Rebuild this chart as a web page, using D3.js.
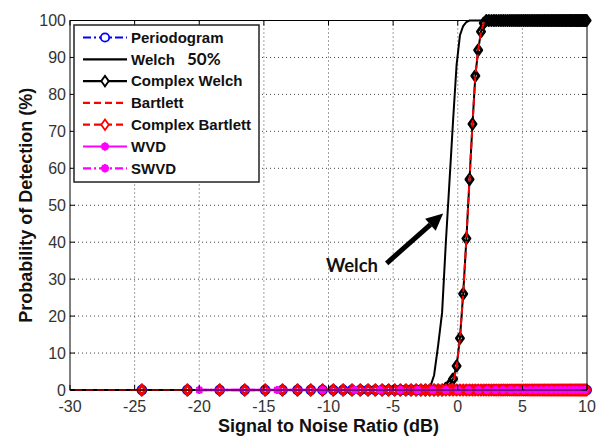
<!DOCTYPE html>
<html>
<head>
<meta charset="utf-8">
<script src="https://cdn.jsdelivr.net/npm/d3@7"></script>
<style>
  html, body { margin: 0; padding: 0; background: #fff; }
  svg { display: block; }
</style>
</head>
<body>
<svg id="chart" width="601" height="439"></svg>
<script>
// SNR sample grid (dB) for the spectral detectors
const snrFine = [
  -30.46, -24.44, -20.92, -18.42, -16.48, -14.90, -13.56, -12.40, -11.37, -10.46,
  -9.63, -8.87, -8.18, -7.54, -6.94, -6.38, -5.85, -5.35, -4.88, -4.44,
  -4.01, -3.61, -3.22, -2.85, -2.50, -2.16, -1.83, -1.52, -1.21, -0.92,
  -0.63, -0.36, -0.09, 0.17, 0.42, 0.67, 0.91, 1.14, 1.36, 1.58,
  1.80, 2.01, 2.21, 2.41, 2.61, 2.80, 2.98, 3.17, 3.35, 3.52,
  3.69, 3.86, 4.03, 4.19, 4.35, 4.51, 4.66, 4.81, 4.96, 5.11,
  5.25, 5.39, 5.53, 5.67, 5.80, 5.93, 6.06, 6.19, 6.32, 6.44,
  6.57, 6.69, 6.81, 6.93, 7.04, 7.16, 7.27, 7.38, 7.50, 7.60,
  7.71, 7.82, 7.92, 8.03, 8.13, 8.23, 8.33, 8.43, 8.53, 8.63,
  8.72, 8.82, 8.91, 9.01, 9.10, 9.19, 9.28, 9.37, 9.46, 9.54,
  9.63, 9.71, 9.80, 9.88, 9.97
];
// SNR sample grid (dB) for the time-frequency detectors
const snrCoarse = [
  -20.00, -13.98, -10.46, -7.96, -6.02, -4.44, -3.10, -1.94, -0.92, 0.00,
  0.83, 1.58, 2.28, 2.92, 3.52, 4.08, 4.61, 5.11, 5.58, 6.02,
  6.44, 6.85, 7.23, 7.60, 7.96, 8.30, 8.63, 8.95, 9.25, 9.54, 9.83
];

// Probability of detection (%)
const periodogram = [
  0, 0, 0, 0, 0, 0, 0, 0, 0, 0,   0, 0, 0, 0, 0, 0, 0, 0, 0, 0,
  0, 0, 0, 0, 0, 0, 0, 0, 0, 0,   0, 0, 0, 0, 0, 0, 0, 0, 0, 0,
  0, 0, 0, 0, 0, 0, 0, 0, 0, 0,   0, 0, 0, 0, 0, 0, 0, 0, 0, 0,
  0, 0, 0, 0, 0, 0, 0, 0, 0, 0,   0, 0, 0, 0, 0, 0, 0, 0, 0, 0,
  0, 0, 0, 0, 0, 0, 0, 0, 0, 0,   0, 0, 0, 0, 0, 0, 0, 0, 0, 0,
  0, 0, 0, 0, 0
];
const welch = [
  0, 0, 0, 0, 0, 0, 0, 0, 0, 0,   0, 0, 0, 0, 0, 0, 0, 0, 0, 0,
  0, 0, 0, 0, 0, 0.5, 4, 12, 21, 40,
  57, 73, 88, 96, 98.5, 99.6, 100, 100, 100, 100,
  100, 100, 100, 100, 100, 100, 100, 100, 100, 100,   100, 100, 100, 100, 100, 100, 100, 100, 100, 100,
  100, 100, 100, 100, 100, 100, 100, 100, 100, 100,   100, 100, 100, 100, 100, 100, 100, 100, 100, 100,
  100, 100, 100, 100, 100, 100, 100, 100, 100, 100,   100, 100, 100, 100, 100, 100, 100, 100, 100, 100,
  100, 100, 100, 100, 100
];
const complexWelch = [
  0, 0, 0, 0, 0, 0, 0, 0, 0, 0,   0, 0, 0, 0, 0, 0, 0, 0, 0, 0,
  0, 0, 0, 0, 0, 0, 0, 0, 0, 0.5,
  1.5, 3, 6.5, 14, 26, 41, 57, 72, 85, 92,
  97, 99.3, 100, 100, 100, 100, 100, 100, 100, 100,   100, 100, 100, 100, 100, 100, 100, 100, 100, 100,
  100, 100, 100, 100, 100, 100, 100, 100, 100, 100,   100, 100, 100, 100, 100, 100, 100, 100, 100, 100,
  100, 100, 100, 100, 100, 100, 100, 100, 100, 100,   100, 100, 100, 100, 100, 100, 100, 100, 100, 100,
  100, 100, 100, 100, 100
];
const bartlett = [
  0, 0, 0, 0, 0, 0, 0, 0, 0, 0,   0, 0, 0, 0, 0, 0, 0, 0, 0, 0,
  0, 0, 0, 0, 0, 0, 0, 0, 0, 0,
  0.5, 2, 6, 14, 26, 41, 57, 72, 85, 92,
  97, 99.3, 100
];
const complexBartlett = [
  0, 0, 0, 0, 0, 0, 0, 0, 0, 0,   0, 0, 0, 0, 0, 0, 0, 0, 0, 0,
  0, 0, 0, 0, 0, 0, 0, 0, 0, 0,   0, 0, 0, 0, 0, 0, 0, 0, 0, 0,
  0, 0, 0, 0, 0, 0, 0, 0, 0, 0,   0, 0, 0, 0, 0, 0, 0, 0, 0, 0,
  0, 0, 0, 0, 0, 0, 0, 0, 0, 0,   0, 0, 0, 0, 0, 0, 0, 0, 0, 0,
  0, 0, 0, 0, 0, 0, 0, 0, 0, 0,   0, 0, 0, 0, 0, 0, 0, 0, 0, 0,
  0, 0, 0, 0, 0
];
const wvd = [
  0, 0, 0, 0, 0, 0, 0, 0, 0, 0,   0, 0, 0, 0, 0, 0, 0, 0, 0, 0,
  0, 0, 0, 0, 0, 0, 0, 0, 0, 0, 0
];
const swvd = [
  0, 0, 0, 0, 0, 0, 0, 0, 0, 0,   0, 0, 0, 0, 0, 0, 0, 0, 0, 0,
  0, 0, 0, 0, 0, 0, 0, 0, 0, 0, 0
];

const xTicks = [-30, -25, -20, -15, -10, -5, 0, 5, 10];
const yTicks = [0, 10, 20, 30, 40, 50, 60, 70, 80, 90, 100];

const seriesNames = ["Periodogram", "Welch", "Complex Welch", "Bartlett", "Complex Bartlett", "WVD", "SWVD"];

// Draw order: each line with its markers, red Bartlett dashes over the black ramp
const series = [
  { name: "Periodogram", x: snrFine, y: periodogram, color: "#0000ff", dash: "8,3,2,3", marker: "circle", width: 1.6 },
  { name: "Welch", x: snrFine, y: welch, color: "#000000", dash: null, marker: null, width: 2 },
  { name: "Complex Welch", x: snrFine, y: complexWelch, color: "#000000", dash: null, marker: "diamond", width: 2 },
  { name: "Bartlett", x: snrFine, y: bartlett, color: "#ff0000", dash: "7,4", marker: null, width: 2 },
  { name: "Complex Bartlett", x: snrFine, y: complexBartlett, color: "#ff0000", dash: "7,4", marker: "diamond", width: 2 },
  { name: "WVD", x: snrCoarse, y: wvd, color: "#ff00ff", dash: null, marker: "star", width: 2.6 },
  { name: "SWVD", x: snrCoarse, y: swvd, color: "#ff00ff", dash: "8,3,2,3", marker: "star", width: 2.6 }
];

const svg = d3.select("#chart");
const plot = { left: 70, right: 587, top: 20.5, bottom: 390 };

const x = d3.scaleLinear().domain([-30, 10]).range([plot.left, plot.right]);
const y = d3.scaleLinear().domain([0, 100]).range([plot.bottom, plot.top]);

svg.append("defs").append("clipPath").attr("id", "plotClip")
  .append("rect")
  .attr("x", plot.left).attr("y", plot.top - 2)
  .attr("width", plot.right - plot.left).attr("height", plot.bottom - plot.top + 4);

// dotted grid
const grid = svg.append("g").attr("stroke", "#444").attr("stroke-width", 1).attr("stroke-dasharray", "1,3");
grid.selectAll("line.gx").data(xTicks.slice(1, -1)).join("line")
  .attr("x1", d => x(d)).attr("x2", d => x(d))
  .attr("y1", plot.top).attr("y2", plot.bottom);
grid.selectAll("line.gy").data(yTicks.slice(1, -1)).join("line")
  .attr("x1", plot.left).attr("x2", plot.right)
  .attr("y1", d => y(d)).attr("y2", d => y(d));

function markerPath(type, cx, cy, s) {
  if (type === "diamond") {
    const w = 3.6 * s, h = 5 * s;
    return `M${cx},${cy - h}L${cx + w},${cy}L${cx},${cy + h}L${cx - w},${cy}Z`;
  }
  if (type === "circle") {
    const r = 4 * s;
    return `M${cx - r},${cy}a${r},${r} 0 1,0 ${2 * r},0a${r},${r} 0 1,0 ${-2 * r},0Z`;
  }
  if (type === "star") {
    const r = 4 * s, d = r * 0.7;
    return `M${cx - r},${cy}L${cx + r},${cy}M${cx},${cy - r}L${cx},${cy + r}` +
           `M${cx - d},${cy - d}L${cx + d},${cy + d}M${cx - d},${cy + d}L${cx + d},${cy - d}`;
  }
  return "";
}

const lineGen = d3.line()
  .defined(d => d[1] !== null && d[1] !== undefined)
  .x(d => x(d[0])).y(d => y(d[1]));

const dataLayer = svg.append("g");
series.forEach(s => {
  const pts = s.y.map((v, i) => [s.x[i], v]);
  const g = dataLayer.append("g");
  g.append("path")
    .attr("clip-path", "url(#plotClip)")
    .attr("d", lineGen(pts))
    .attr("fill", "none")
    .attr("stroke", s.color)
    .attr("stroke-width", s.width)
    .attr("stroke-dasharray", s.dash);
  if (s.marker) {
    const inside = pts.filter(p => p[1] !== null && p[0] >= -30 && p[0] <= 10);
    g.selectAll("path.m").data(inside).join("path")
      .attr("class", "m")
      .attr("d", p => markerPath(s.marker, x(p[0]), y(p[1]), 1))
      .attr("fill", "none")
      .attr("stroke", s.color)
      .attr("stroke-linejoin", "round")
      .attr("stroke-width", s.marker === "star" ? 2.2 : 2.8);
  }
});

// axes box and ticks
const axes = svg.append("g").attr("stroke", "#000").attr("stroke-width", 1);
axes.append("rect")
  .attr("x", plot.left).attr("y", plot.top)
  .attr("width", plot.right - plot.left).attr("height", plot.bottom - plot.top)
  .attr("fill", "none");
const tl = 5;
axes.selectAll("line.xtb").data(xTicks).join("line")
  .attr("x1", d => x(d)).attr("x2", d => x(d)).attr("y1", plot.bottom).attr("y2", plot.bottom - tl);
axes.selectAll("line.xtt").data(xTicks).join("line")
  .attr("x1", d => x(d)).attr("x2", d => x(d)).attr("y1", plot.top).attr("y2", plot.top + tl);
axes.selectAll("line.ytl").data(yTicks).join("line")
  .attr("y1", d => y(d)).attr("y2", d => y(d)).attr("x1", plot.left).attr("x2", plot.left + tl);
axes.selectAll("line.ytr").data(yTicks).join("line")
  .attr("y1", d => y(d)).attr("y2", d => y(d)).attr("x1", plot.right).attr("x2", plot.right - tl);

const tickFont = "'Liberation Sans', Arial, sans-serif";
svg.append("g").selectAll("text").data(xTicks).join("text")
  .attr("x", d => x(d)).attr("y", 412)
  .attr("text-anchor", "middle")
  .attr("font-family", tickFont).attr("font-size", 16).attr("fill", "#333")
  .text(d => d);
svg.append("g").selectAll("text").data(yTicks).join("text")
  .attr("x", 66).attr("y", d => y(d) + 5.5)
  .attr("text-anchor", "end")
  .attr("font-family", tickFont).attr("font-size", 16).attr("fill", "#333")
  .text(d => d);

svg.append("text")
  .attr("x", (plot.left + plot.right) / 2).attr("y", 432)
  .attr("text-anchor", "middle")
  .attr("font-family", tickFont).attr("font-weight", "bold").attr("font-size", 18)
  .attr("fill", "#111")
  .text("Signal to Noise Ratio (dB)");
svg.append("text")
  .attr("transform", `translate(32,${(plot.top + plot.bottom) / 2}) rotate(-90)`)
  .attr("text-anchor", "middle")
  .attr("font-family", tickFont).attr("font-weight", "bold").attr("font-size", 18)
  .attr("fill", "#111")
  .text("Probability of Detection (%)");

// legend
const legend = svg.append("g");
legend.append("rect")
  .attr("x", 74).attr("y", 25).attr("width", 185).attr("height", 157)
  .attr("fill", "#fff").attr("stroke", "#222").attr("stroke-width", 1.5);
const rowY = i => 37.5 + i * 21.8;
series.forEach(s => {
  const idx = seriesNames.indexOf(s.name);
  const cy = rowY(idx);
  legend.append("line")
    .attr("x1", 83).attr("x2", 127).attr("y1", cy).attr("y2", cy)
    .attr("stroke", s.color).attr("stroke-width", 2.2)
    .attr("stroke-dasharray", s.dash);
  if (s.marker) {
    legend.append("path")
      .attr("d", markerPath(s.marker, 105, cy, 1.05))
      .attr("fill", s.marker === "star" ? s.color : "#fff")
      .attr("stroke", s.color).attr("stroke-width", s.marker === "star" ? 2.5 : 1.8);
  }
  legend.append("text")
    .attr("x", 131).attr("y", cy + 5.3)
    .attr("font-family", tickFont).attr("font-weight", "bold").attr("font-size", 15)
    .attr("fill", "#111")
    .text(s.name);
});
legend.append("text")
  .attr("x", 187).attr("y", rowY(1) + 5.8)
  .attr("font-family", "Lato, sans-serif").attr("font-weight", "bold").attr("font-size", 17)
  .attr("fill", "#111")
  .text("50%");

// annotation pointing at the Welch curve
const arrowFrom = [-5.5, 34.3], arrowTo = [-1.13, 47.8];
const ax0 = x(arrowFrom[0]), ay0 = y(arrowFrom[1]);
const ax1 = x(arrowTo[0]), ay1 = y(arrowTo[1]);
const ang = Math.atan2(ay1 - ay0, ax1 - ax0);
const headLen = 17, headHalf = 8;
const bx = ax1 - headLen * Math.cos(ang), by = ay1 - headLen * Math.sin(ang);
svg.append("line")
  .attr("x1", ax0).attr("y1", ay0).attr("x2", bx).attr("y2", by)
  .attr("stroke", "#000").attr("stroke-width", 5);
svg.append("path")
  .attr("d", `M${ax1},${ay1}L${bx - headHalf * Math.sin(ang)},${by + headHalf * Math.cos(ang)}L${bx + headHalf * Math.sin(ang)},${by - headHalf * Math.cos(ang)}Z`)
  .attr("fill", "#000");
svg.append("text")
  .attr("x", x(-10.2)).attr("y", y(32))
  .attr("font-family", "Lato, sans-serif").attr("font-weight", "bold").attr("font-size", 18.5)
  .attr("fill", "#111")
  .text("Welch");
</script>
</body>
</html>
